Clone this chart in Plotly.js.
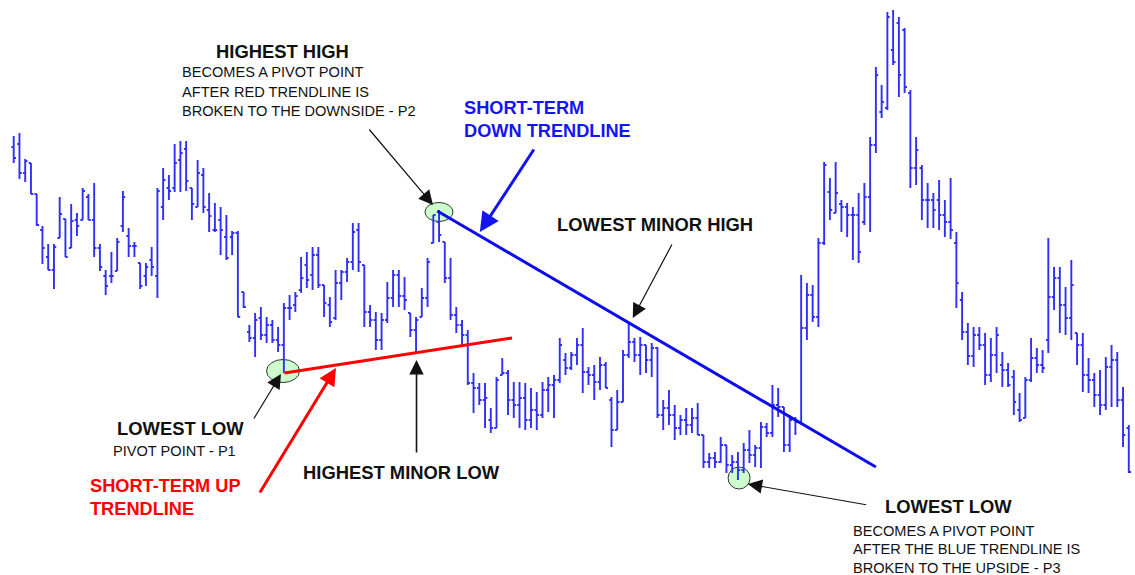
<!DOCTYPE html>
<html>
<head>
<meta charset="utf-8">
<script src="https://cdn.plot.ly/plotly-3.0.1.min.js"></script>
<style>html,body{margin:0;padding:0;background:#fff;}#chart{width:1135px;height:575px;}</style>
</head>
<body>
<div id="chart"></div>
<script>
// ---- data (price units) ----
const openP = [45.3,45.6,42.7,43.7,40.6,37.0,34.3,33.0,36.2,38.1,
35.2,38.0,38.0,40.3,38.0,35.2,32.4,32.4,32.9,37.4,
36.4,35.4,33.7,32.4,34.0,32.4,39.3,41.2,41.2,44.0,
45.1,41.2,39.3,42.5,39.0,37.0,38.0,36.3,36.3,36.7,
30.8,26.8,26.2,28.2,26.5,27.5,26.0,25.5,29.2,29.5,
31.0,33.5,32.5,34.5,31.5,29.5,28.2,31.7,32.8,33.8,
37.0,33.5,28.8,28.0,26.0,28.0,30.2,32.5,30.4,28.7,
27.0,28.3,30.2,35.7,37.8,35.8,32.2,28.5,27.5,26.5,
21.7,21.2,20.0,18.0,17.2,22.5,22.7,20.0,19.5,20.2,
18.0,19.0,18.5,21.0,21.5,22.0,24.0,23.2,24.5,25.5,
22.8,22.5,21.8,23.5,20.0,17.0,19.8,24.5,25.8,24.5,
25.5,24.0,25.2,18.5,19.2,18.5,17.2,18.0,17.5,18.2,
16.5,13.8,14.2,13.8,15.5,13.5,13.8,13.0,15.0,14.5,
15.2,17.3,16.7,19.5,19.3,15.5,18.0,17.8,27.2,30.5,
28.3,35.7,40.8,38.7,39.6,39.3,38.5,38.5,37.8,40.3,
45.5,48.8,49.2,55.0,57.7,57.0,50.7,43.2,43.2,40.0,
40.0,40.0,38.5,37.8,35.7,30.0,26.8,24.4,26.5,25.5,
22.5,24.5,23.5,23.0,22.3,19.0,18.2,22.0,24.2,23.5,
26.0,30.3,32.2,29.5,28.2,26.7,25.5,22.5,22.0,20.5,
19.5,23.3,24.0,20.0,17.2];
const highP = [46.4,46.7,44.1,43.7,40.6,37.4,35.6,35.6,40.3,38.1,
39.6,38.7,41.2,40.6,41.7,35.6,33.0,34.8,36.2,40.9,
37.2,35.8,33.7,33.7,35.3,41.2,43.2,42.5,45.6,45.9,
45.9,41.2,44.0,43.2,40.7,39.7,39.3,38.5,36.9,36.9,
30.8,27.5,28.7,29.3,28.3,28.0,27.3,29.7,30.5,30.8,
34.3,34.8,35.3,35.3,31.5,30.3,33.0,33.0,34.2,37.7,
37.7,33.5,29.5,28.8,28.7,31.8,33.0,33.0,32.3,28.7,
28.3,31.2,34.2,38.5,39.0,35.8,34.2,29.3,28.0,27.0,
22.7,21.7,21.7,19.2,22.3,24.2,23.0,21.8,21.8,21.7,
21.2,20.8,21.8,22.3,22.5,26.2,24.7,24.8,26.2,27.2,
23.3,23.5,24.3,23.8,20.3,21.0,25.0,27.7,26.2,26.3,
25.5,25.7,25.3,20.0,21.0,19.5,18.5,19.2,19.2,19.7,
16.5,14.7,14.8,16.3,15.5,14.5,14.8,15.7,17.0,15.5,
17.8,17.7,21.5,21.2,19.3,18.5,18.3,32.5,31.7,31.5,
36.2,43.8,42.2,43.8,40.0,39.7,39.3,40.7,41.7,46.3,
53.3,51.5,58.8,59.0,58.3,57.2,51.0,46.3,43.5,41.7,
40.7,42.0,40.0,42.2,36.8,30.8,27.7,27.3,27.3,26.7,
26.2,27.3,24.8,23.7,23.0,20.7,22.3,26.2,25.2,25.0,
36.2,33.3,33.3,31.3,34.0,26.7,26.7,24.2,22.7,23.0,
24.3,25.5,24.8,21.3,17.5];
const lowP = [43.7,42.1,41.8,40.6,37.4,33.6,33.0,31.1,36.2,34.3,
35.2,36.4,38.0,38.0,34.3,32.9,30.5,31.7,32.9,36.8,
34.3,34.3,31.1,31.4,32.4,30.2,38.0,40.0,40.8,40.8,
40.9,38.0,39.3,38.7,36.8,36.8,34.5,34.0,34.5,28.3,
29.2,25.8,24.3,26.0,25.7,25.7,24.8,22.7,28.0,28.8,
30.7,31.2,31.0,31.2,28.3,27.3,28.0,30.0,31.8,33.0,
32.8,27.3,27.3,25.0,25.0,27.7,29.3,29.3,29.0,26.3,
24.8,28.3,29.3,35.7,35.8,31.7,28.0,26.7,25.5,21.5,
18.7,19.5,17.2,16.7,17.2,22.5,18.5,18.2,17.2,17.0,
17.2,17.0,18.2,18.8,18.2,21.7,22.5,23.0,23.5,20.7,
21.5,20.0,21.0,21.2,15.3,17.0,19.8,24.2,23.8,22.5,
22.7,22.3,18.2,17.0,17.5,16.0,16.5,16.5,16.7,16.5,
13.2,13.2,13.2,13.7,12.7,12.7,12.0,12.7,13.7,13.3,
13.2,16.3,16.3,18.3,14.8,14.8,16.5,17.8,26.0,27.8,
27.3,35.5,38.0,38.7,36.8,36.3,34.0,33.7,37.5,36.8,
44.7,48.2,49.0,53.5,50.3,50.7,41.2,41.5,38.0,37.2,
37.2,37.0,36.3,36.1,29.2,26.0,23.5,23.3,25.0,21.5,
21.8,22.7,21.3,21.3,18.5,17.8,18.2,21.8,22.7,22.7,
24.7,29.0,26.7,26.5,26.0,23.5,20.8,20.7,19.3,18.5,
19.0,19.3,19.3,15.3,12.7];
const closeP = [44.2,42.7,43.9,40.6,37.5,35.2,33.0,35.3,38.6,34.3,
37.9,37.4,40.9,38.0,35.2,33.3,31.4,32.4,35.8,40.3,
35.4,35.4,31.4,33.3,33.3,40.9,42.0,40.9,43.7,44.7,
41.9,39.6,42.7,39.3,38.4,37.0,37.0,34.2,36.7,28.3,
29.3,26.2,28.0,26.5,27.5,26.0,25.5,29.2,29.2,30.4,
32.2,32.0,34.5,31.5,29.7,27.8,31.7,32.8,33.8,36.8,
33.8,28.8,28.0,26.0,28.0,30.2,32.5,30.4,30.0,27.0,
28.0,30.2,33.8,38.5,36.5,32.2,28.5,27.5,26.5,21.7,
21.2,20.0,20.2,17.2,22.0,22.7,20.0,19.5,20.2,18.0,
19.0,18.5,21.0,21.5,22.0,25.5,23.2,24.5,25.5,22.8,
22.5,21.8,23.5,21.2,17.0,19.8,24.5,25.8,24.5,25.5,
24.0,25.2,18.5,19.2,18.5,17.2,18.0,17.5,18.2,16.5,
13.8,14.2,13.8,15.5,13.5,13.8,13.0,15.0,14.5,15.2,
17.3,16.7,19.5,19.3,15.5,18.0,17.8,27.2,30.5,28.3,
35.7,43.5,39.0,40.7,39.3,38.5,38.5,34.8,40.3,45.5,
52.5,49.8,58.3,53.8,52.5,51.3,43.2,45.0,40.0,40.0,
39.0,38.5,37.8,37.0,31.7,26.8,24.4,26.5,25.5,22.5,
24.5,26.5,23.0,21.5,19.8,18.0,22.0,24.2,23.5,23.2,
30.3,32.2,29.5,28.2,31.5,25.5,22.5,22.0,20.5,19.5,
23.3,24.0,20.0,16.5,12.8];
const barIndex = [];
for (let i = 1; i <= openP.length; i++) barIndex.push(i);

// trendlines (bar index, price)
const upTrendX = [48.1, 87.7];
const upTrendY = [22.7, 26.2];
const downTrendX = [74.7, 151.0];
const downTrendY = [38.9, 13.3];

// pivot points (bar index, price) marked by ellipses
const pivotX = [47.86, 74.99, 127.2];
const pivotY = [22.9, 38.8, 12.2];

// ---- geometry helpers ----
const W = 1135, H = 575;
const XR = [-1.3835, 196.08], YR = [2.5, 60];
const pxX = v => v / W;           // pixel -> paper
const pxY = v => 1 - v / H;
const dxIdx = p => p * (XR[1] - XR[0]) / W;   // pixels -> index units
const dyPr = p => p * (YR[1] - YR[0]) / H;    // pixels -> price units

const BAR = '#2f2ff8';
const traces = [
  {type: 'ohlc', x: barIndex, open: openP, high: highP, low: lowP, close: closeP,
   increasing: {line: {color: BAR, width: 1.9}}, decreasing: {line: {color: BAR, width: 1.9}},
   tickwidth: 0.4, hoverinfo: 'skip', showlegend: false},
  {type: 'scatter', mode: 'lines', x: upTrendX, y: upTrendY,
   line: {color: '#ff0000', width: 3}, hoverinfo: 'skip', showlegend: false},
  {type: 'scatter', mode: 'lines', x: downTrendX, y: downTrendY,
   line: {color: '#0c0cee', width: 3}, hoverinfo: 'skip', showlegend: false}
];

const ellR = [[16.5, 11.5], [14, 9.5], [11, 11]];
const shapes = pivotX.map((px, i) => ({
  type: 'circle', xref: 'x', yref: 'y', layer: 'below',
  x0: px - dxIdx(ellR[i][0]), x1: px + dxIdx(ellR[i][0]),
  y0: pivotY[i] - dyPr(ellR[i][1]), y1: pivotY[i] + dyPr(ellR[i][1]),
  fillcolor: '#ccffcc', line: {color: '#333', width: 1}
}));

const BOLD = {family: 'Liberation Sans, Arial, sans-serif', size: 18.4, color: '#111', weight: 'bold'};
const SMALL = {family: 'Liberation Sans, Arial, sans-serif', size: 14.6, color: '#111'};
const blueF = Object.assign({}, BOLD, {color: '#1414f4', size: 18.2});
const redF = Object.assign({}, BOLD, {color: '#ff0000', size: 18.2});

function txt(t, x, y, font, anchor) {
  return {text: t, xref: 'paper', yref: 'paper', x: pxX(x), y: pxY(y),
          xanchor: anchor || 'center', yanchor: 'middle', showarrow: false, font: font};
}
function arrow(xIdx, yPr, ax, ay, color, width, size) {
  return {text: '', xref: 'x', yref: 'y', x: xIdx, y: yPr, ax: ax, ay: ay,
          showarrow: true, arrowhead: 2, arrowsize: size, arrowwidth: width, arrowcolor: color};
}

const annotations = [
  txt('HIGHEST HIGH', 282, 52, BOLD),
  txt('BECOMES A PIVOT POINT', 180, 72.3, SMALL, 'left'),
  txt('AFTER RED TRENDLINE IS', 180, 91.7, SMALL, 'left'),
  txt('BROKEN TO THE DOWNSIDE - P2', 180, 111, SMALL, 'left'),
  txt('SHORT-TERM', 462, 107.7, blueF, 'left'),
  txt('DOWN TRENDLINE', 462, 130.7, blueF, 'left'),
  txt('LOWEST MINOR HIGH', 655, 224, BOLD),
  txt('LOWEST LOW', 180, 428, BOLD),
  txt('PIVOT POINT - P1', 174, 451.3, SMALL),
  txt('SHORT-TERM UP', 88, 486.3, redF, 'left'),
  txt('TRENDLINE', 88, 509, redF, 'left'),
  txt('HIGHEST MINOR LOW', 401, 472, BOLD),
  txt('LOWEST LOW', 948, 506.7, BOLD),
  txt('BECOMES A PIVOT POINT', 851, 530.5, SMALL, 'left'),
  txt('AFTER THE BLUE TRENDLINE IS', 851, 549.3, SMALL, 'left'),
  txt('BROKEN TO THE UPSIDE - P3', 851, 567.5, SMALL, 'left'),
  // arrows (tip in data units, tail offset in pixels)
  arrow(73.95, 39.5, -65, -77, '#111', 1.2, 2.4),
  arrow(82.1, 36.8, 55, -84, '#1414f0', 3, 1.3),
  arrow(108.7, 28.2, 40, -75, '#111', 1.2, 2.4),
  arrow(47.5, 22.6, -28, 46, '#111', 1.2, 2.4),
  arrow(57.07, 23.2, -77, 126, '#ff0000', 3, 1.15),
  arrow(71.08, 24.0, 0, 94, '#111', 1.6, 1.8),
  arrow(128.7, 11.6, 120, 21, '#111', 1.2, 2.4)
];

const layout = {
  width: W, height: H, margin: {l: 0, r: 0, t: 0, b: 0},
  paper_bgcolor: '#ffffff', plot_bgcolor: '#ffffff',
  showlegend: false, hovermode: false,
  xaxis: {range: XR, visible: false, showgrid: false, zeroline: false, rangeslider: {visible: false}, fixedrange: true},
  yaxis: {range: YR, visible: false, showgrid: false, zeroline: false, fixedrange: true},
  shapes: shapes, annotations: annotations
};

Plotly.newPlot('chart', traces, layout, {staticPlot: true, displayModeBar: false});
</script>
</body>
</html>
